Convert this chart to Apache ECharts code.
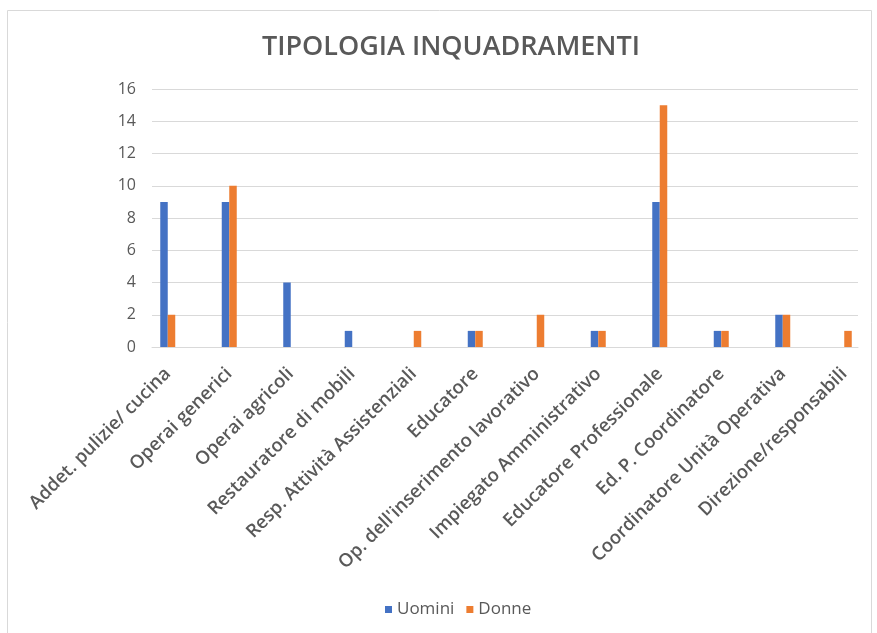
<!DOCTYPE html>
<html>
<head>
<meta charset="utf-8">
<script src="https://cdn.jsdelivr.net/npm/echarts@6/dist/echarts.min.js"></script>
<style>html,body{margin:0;padding:0;background:#fff}#c{width:877px;height:633px}</style>
</head>
<body>
<div id="c"></div>
<script>
const categories = ["Addet. pulizie/ cucina","Operai generici","Operai agricoli","Restauratore di mobili","Resp. Attività Assistenziali","Educatore","Op. dell'inserimento lavorativo","Impiegato Amministrativo","Educatore Professionale","Ed. P. Coordinatore","Coordinatore Unità Operativa","Direzione/responsabili"];
const uomini = [9,9,4,1,0,1,0,1,9,1,2,0];
const donne  = [2,10,0,0,1,1,2,1,15,1,2,1];
const yTicks = {min:0,max:16,interval:2};

const chart = echarts.init(document.getElementById('c'));
const grey = '#595959';
chart.setOption({
  animation:false,
  title:{text:'TIPOLOGIA INQUADRAMENTI',left:257,top:29,
    textStyle:{fontFamily:'Open Sans',fontWeight:600,fontSize:27,color:grey}},
  graphic:[{type:'rect',shape:{x:7.5,y:10.5,width:864,height:640},style:{fill:'none',stroke:'#d9d9d9',lineWidth:1},silent:true}],
  legend:{data:['Uomini','Donne'],left:380,top:596,icon:'rect',itemWidth:7,itemHeight:7,itemGap:12,
    textStyle:{fontFamily:'Open Sans',fontSize:17,color:grey}},
  grid:[
    {left:152,right:19,top:89,bottom:286},
    {left:137,right:2,top:89,bottom:286}
  ],
  xAxis:[
    {type:'category',gridIndex:0,data:categories,axisLabel:{show:false},axisTick:{show:false},
      axisLine:{lineStyle:{color:'#d9d9d9'}}},
    {type:'category',gridIndex:1,data:categories,axisLine:{show:false},axisTick:{show:false},
      axisLabel:{interval:0,rotate:45,margin:24,fontFamily:'Open Sans',fontWeight:600,fontSize:18.5,color:grey}}
  ],
  yAxis:[
    {type:'value',gridIndex:0,min:yTicks.min,max:yTicks.max,interval:yTicks.interval,
      axisLabel:{fontFamily:'Open Sans',fontSize:16,color:grey,margin:16},
      axisLine:{show:false},axisTick:{show:false},splitLine:{lineStyle:{color:'#d9d9d9'}}},
    {type:'value',gridIndex:1,min:yTicks.min,max:yTicks.max,interval:yTicks.interval,show:false,splitLine:{show:false}}
  ],
  series:[
    {name:'Uomini',type:'bar',xAxisIndex:1,yAxisIndex:1,data:uomini,barWidth:7.5,barGap:'0%',itemStyle:{color:'#4472C4'}},
    {name:'Donne',type:'bar',xAxisIndex:1,yAxisIndex:1,data:donne,barWidth:7.5,barGap:'0%',itemStyle:{color:'#ED7D31'}}
  ]
});
</script>
</body>
</html>
